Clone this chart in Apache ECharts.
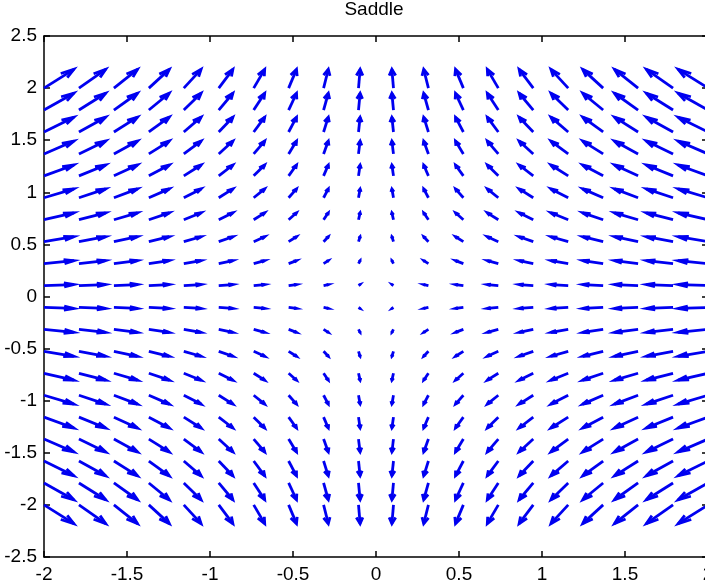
<!DOCTYPE html>
<html>

<head>
    <meta charset="UTF-8">
    <script src="https://cdn.jsdelivr.net/npm/echarts@6/dist/echarts.min.js"></script>
</head>

<body style="margin:0; background-color:#ffffff;">
    <div id="main" style="height:585px;width:705px"></div>
    <script type="text/javascript">
        // grid points (20 x 20)
        var xGrid = [-2, -1.7895, -1.5789, -1.3684, -1.1579, -0.9474, -0.7368, -0.5263, -0.3158, -0.1053,
            0.1053, 0.3158, 0.5263, 0.7368, 0.9474, 1.1579, 1.3684, 1.5789, 1.7895, 2];
        var yGrid = [-2, -1.7895, -1.5789, -1.3684, -1.1579, -0.9474, -0.7368, -0.5263, -0.3158, -0.1053,
            0.1053, 0.3158, 0.5263, 0.7368, 0.9474, 1.1579, 1.3684, 1.5789, 1.7895, 2];
        // horizontal component, one per column
        var uCol = [2, 1.7895, 1.5789, 1.3684, 1.1579, 0.9474, 0.7368, 0.5263, 0.3158, 0.1053,
            -0.1053, -0.3158, -0.5263, -0.7368, -0.9474, -1.1579, -1.3684, -1.5789, -1.7895, -2];
        // vertical component, one per row
        var vRow = [-2, -1.7895, -1.5789, -1.3684, -1.1579, -0.9474, -0.7368, -0.5263, -0.3158, -0.1053,
            0.1053, 0.3158, 0.5263, 0.7368, 0.9474, 1.1579, 1.3684, 1.5789, 1.7895, 2];
        var xTicks = ['-2', '-1.5', '-1', '-0.5', '0', '0.5', '1', '1.5', '2'];
        var yTicks = ['-2.5', '-2', '-1.5', '-1', '-0.5', '0', '0.5', '1', '1.5', '2', '2.5'];

        var arrows = [];
        for (var i = 0; i < xGrid.length; i++) {
            for (var j = 0; j < yGrid.length; j++) {
                arrows.push([xGrid[i], yGrid[j], uCol[i], vRow[j]]);
            }
        }

        var scale = 0.09; // autoscale like quiver
        var alpha = 0.33, beta = 0.33; // head size
        var blue = '#0000f0';

        function renderArrow(params, api) {
            var x = api.value(0), y = api.value(1);
            var u = api.value(2) * scale, v = api.value(3) * scale;
            var tail = api.coord([x, y]);
            var tip = api.coord([x + u, y + v]);
            var h1 = api.coord([x + u - alpha * (u + beta * v), y + v - alpha * (v - beta * u)]);
            var h2 = api.coord([x + u - alpha * (u - beta * v), y + v - alpha * (v + beta * u)]);
            var st = { stroke: blue, lineWidth: 2.8, fill: null };
            return {
                type: 'group',
                children: [
                    { type: 'line', shape: { x1: tail[0], y1: tail[1], x2: tip[0], y2: tip[1] }, style: st },
                    { type: 'polyline', shape: { points: [h1, tip, h2] }, style: st }
                ]
            };
        }

        var axisLine = { onZero: false, lineStyle: { color: '#000', width: 1.5 } };
        var tick = { inside: true, length: 6, lineStyle: { color: '#000', width: 1.5 } };
        var font = { color: '#000', fontSize: 19, fontFamily: 'Liberation Sans, Arial, sans-serif' };

        var myChart = echarts.init(document.getElementById('main'));
        var option = {
            animation: false,
            title: {
                text: 'Saddle',
                left: 374,
                top: 0,
                padding: 0,
                textAlign: 'center',
                textStyle: { color: '#000', fontSize: 19, fontWeight: 'normal', fontFamily: 'Liberation Sans, Arial, sans-serif' }
            },
            grid: { left: 44, top: 36, width: 664, height: 521, outerBoundsMode: 'none', containLabel: false },
            xAxis: [
                {
                    type: 'value', min: -2, max: 2, interval: 0.5, position: 'bottom',
                    axisLine: axisLine, axisTick: tick,
                    axisLabel: Object.assign({ margin: 8, formatter: function (val) {
                        return xTicks[Math.round((val + 2) / 0.5)];
                    } }, font),
                    splitLine: { show: false }
                },
                {
                    type: 'value', min: -2, max: 2, interval: 0.5, position: 'top',
                    axisLine: axisLine, axisTick: tick,
                    axisLabel: { show: false },
                    splitLine: { show: false }
                }
            ],
            yAxis: [
                {
                    type: 'value', min: -2.5, max: 2.5, interval: 0.5, position: 'left',
                    axisLine: axisLine, axisTick: tick,
                    axisLabel: Object.assign({ margin: 7, formatter: function (val) {
                        return yTicks[Math.round((val + 2.5) / 0.5)];
                    } }, font),
                    splitLine: { show: false }
                },
                {
                    type: 'value', min: -2.5, max: 2.5, interval: 0.5, position: 'right',
                    axisLine: axisLine, axisTick: tick,
                    axisLabel: { show: false },
                    splitLine: { show: false }
                }
            ],
            series: [
                {
                    type: 'custom',
                    xAxisIndex: 0,
                    yAxisIndex: 0,
                    renderItem: renderArrow,
                    data: arrows,
                    silent: true
                }
            ]
        };
        myChart.setOption(option);
    </script>
</body>

</html>
